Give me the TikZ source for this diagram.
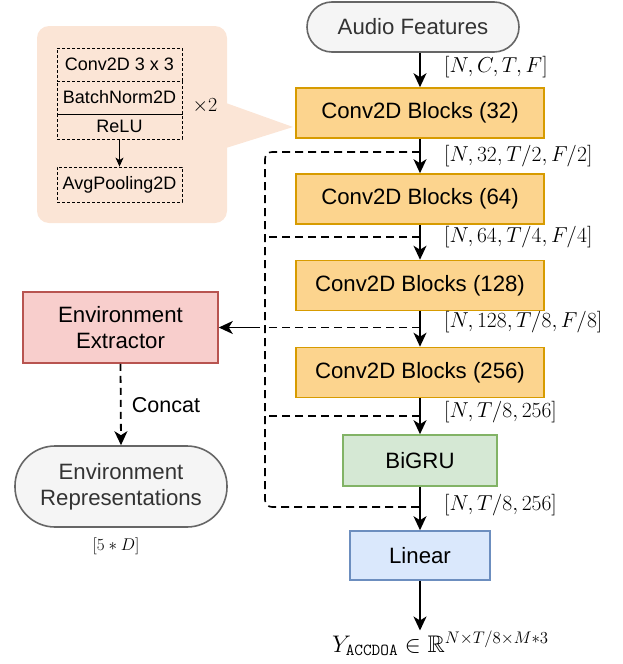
\RequirePackage{fix-cm}
\documentclass[tikz,border=0pt]{standalone}
\usepackage[no-math]{fontspec}
\usepackage{amssymb}
\newfontfamily\sff{Liberation Sans}
\usetikzlibrary{arrows.meta}
\definecolor{convfill}{RGB}{252,212,142}
\definecolor{convdraw}{RGB}{215,155,0}
\definecolor{grufill}{HTML}{D5E8D4}
\definecolor{grudraw}{HTML}{82B366}
\definecolor{linfill}{HTML}{DAE8FC}
\definecolor{lindraw}{HTML}{6C8EBF}
\definecolor{extfill}{HTML}{F8CECC}
\definecolor{extdraw}{HTML}{B85450}
\definecolor{greyfill}{HTML}{F5F5F5}
\definecolor{greydraw}{HTML}{666666}
\definecolor{greytext}{HTML}{333333}
\definecolor{callfill}{RGB}{251,229,214}
\begin{document}
\begin{tikzpicture}[x=1pt,y=-1pt,
  box/.style={draw, line width=1.6pt, font=\sff\fontsize{22.2}{26}\selectfont, align=center, inner sep=0pt},
  conv/.style={box, fill=convfill, draw=convdraw, minimum width=248pt, minimum height=50pt},
  stad/.style={box, fill=greyfill, draw=greydraw, text=greytext},
  inner/.style={draw, line width=0.8pt, dash pattern=on 3pt off 2pt, font=\sff\fontsize{18}{21}\selectfont, inner sep=0pt, minimum width=125pt},
  arr/.style={-{Stealth[length=14pt,width=13pt,inset=4pt]}, line width=1.8pt},
  dsh/.style={dash pattern=on 8pt off 5pt, line width=1.6pt},
  lbl/.style={inner sep=0pt, font=\fontsize{21.6}{25}\selectfont, anchor=mid west}
]
\useasboundingbox (0,0) rectangle (623,664);
% callout
\fill[callfill, rounded corners=12pt] (37,26) rectangle (227,223);
\fill[callfill] (226,103) -- (293,127) -- (226,148) -- cycle;
\node[inner, minimum height=33pt] (cv) at (119.5,64.5) {Conv2D 3 x 3};
\node[inner, minimum height=33pt] (bn) at (119.5,97.5) {BatchNorm2D};
\node[inner, minimum height=25pt] (rl) at (119.5,126.5) {ReLU};
\node[inner, minimum height=35pt] (ap) at (119.5,184.5) {AvgPooling2D};
\draw[-{Stealth[length=9pt,width=8pt,inset=2.5pt]}, line width=1pt] (rl.south) -- (ap.north);
\node[inner sep=0pt, font=\fontsize{20}{24}\selectfont] (x2) at (205,106) {$\times 2$};
% main column
\node[stad, rounded corners=25pt, minimum width=212pt, minimum height=50pt] (audio) at (413,27) {Audio Features};
\node[conv] (c32) at (420,113) {Conv2D Blocks (32)};
\node[conv] (c64) at (420,199) {Conv2D Blocks (64)};
\node[conv] (c128) at (420,285.5) {Conv2D Blocks (128)};
\node[conv] (c256) at (420,372.5) {Conv2D Blocks (256)};
\node[box, fill=grufill, draw=grudraw, minimum width=154pt, minimum height=51pt] (gru) at (420,460.5) {BiGRU};
\node[box, fill=linfill, draw=lindraw, minimum width=140pt, minimum height=49pt] (lin) at (420,555.5) {Linear};
\node[box, fill=extfill, draw=extdraw, minimum width=195pt, minimum height=71pt] (ext) at (120.5,327.5) {Environment\\Extractor};
\node[stad, rounded corners=40pt, minimum width=212pt, minimum height=81pt] (env) at (121,486.5) {Environment\\Representations};
% labels
\node[lbl] (l0) at (444,70) {$[N,C,T,F]$};
\node[lbl] (l1) at (444,159) {$[N,32,T/2,F/2]$};
\node[lbl] (l2) at (444,240) {$[N,64,T/4,F/4]$};
\node[lbl] (l3) at (444,325) {$[N,128,T/8,F/8]$};
\node[lbl] (l4) at (444,415) {$[N,T/8,256]$};
\node[lbl] (l5) at (444,508) {$[N,T/8,256]$};
\node[inner sep=0pt, font=\fontsize{17}{20}\selectfont] (dim) at (116,546) {$[5*D]$};
\node[inner sep=0pt, font=\sff\fontsize{21.5}{25}\selectfont] (cc) at (166,405) {Concat};
\node[inner sep=0pt, font=\fontsize{24}{28}\selectfont, anchor=base west] (yl) at (332,652) {$Y_{\mathtt{ACCDOA}} \in \mathbb{R}^{N\times T/8\times M*3}$};
% dashed skip network
\coordinate (d1) at (420,152);
\coordinate (d2) at (420,237);
\coordinate (d3) at (420,327.5);
\coordinate (d4) at (420,416);
\coordinate (d5) at (420,507);
\coordinate (v1) at (265,152);
\coordinate (v2) at (265,237);
\coordinate (v3) at (265,327.5);
\coordinate (v4) at (265,416);
\coordinate (v5) at (265,507);
\draw[dsh, rounded corners=7pt] (d1) -- (v1) -- (v5) -- (d5);
\draw[dsh] (d2) -- (v2);
\draw[dsh] (d3) -- (v3);
\draw[dsh] (d4) -- (v4);
\coordinate (j3) at (260,327.5);
\draw[arr] (j3) -- (ext.east);
% main arrows
\draw[arr] (audio.south -| c32.north) -- (c32.north);
\draw[arr] (c32.south) -- (c64.north);
\draw[arr] (c64.south) -- (c128.north);
\draw[arr] (c128.south) -- (c256.north);
\draw[arr] (c256.south) -- (gru.north);
\draw[arr] (gru.south) -- (lin.north);
\draw[arr] (lin.south) -- (lin.south |- yl.north);
\draw[arr, dash pattern=on 7pt off 5pt] (ext.south) -- (env.north);
\end{tikzpicture}
\end{document}
